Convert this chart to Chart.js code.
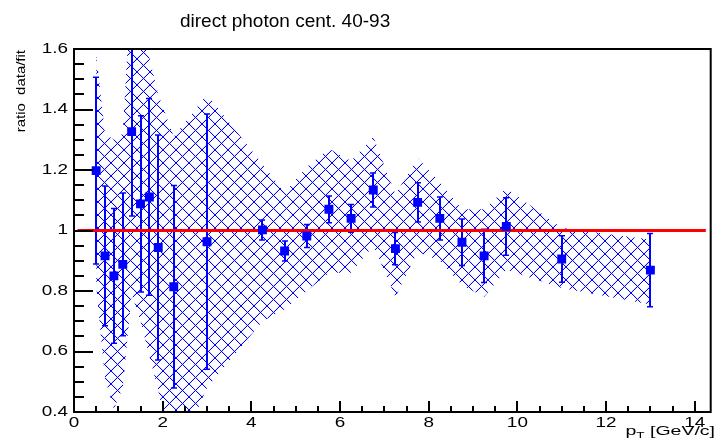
<!DOCTYPE html>
<html><head><meta charset="utf-8">
<script src="https://cdn.jsdelivr.net/npm/chart.js@4/dist/chart.umd.min.js"></script>
<style>html,body{margin:0;padding:0;background:#fff;overflow:hidden}canvas{display:block}</style>
</head><body>
<canvas id="c" width="717" height="445"></canvas>
<script>
// ---------- data ----------
const titleText = 'direct photon cent. 40-93';
const yTitle = 'ratio  data/fit';
const xTitleMain = 'p';
const xTitleSub = 'T';
const xTitleUnit = ' [GeV/c]';
const xTickVals = [0, 2, 4, 6, 8, 10, 12, 14];
const yTickVals = [0.4, 0.6, 0.8, 1.0, 1.2, 1.4, 1.6];
const ptX = [0.5, 0.7, 0.9, 1.1, 1.3, 1.5, 1.7, 1.9, 2.25, 3.0, 4.25, 4.75, 5.25, 5.75, 6.25, 6.75, 7.25, 7.75, 8.25, 8.75, 9.25, 9.75, 11, 13];
const ratio = [1.198, 0.916, 0.850, 0.888, 1.327, 1.088, 1.111, 0.944, 0.814, 0.963, 1.002, 0.932, 0.982, 1.070, 1.040, 1.134, 0.940, 1.093, 1.040, 0.961, 0.916, 1.013, 0.906, 0.869];
const statErr = [0.309, 0.231, 0.223, 0.236, 0.279, 0.291, 0.325, 0.372, 0.335, 0.422, 0.033, 0.033, 0.038, 0.044, 0.046, 0.056, 0.053, 0.065, 0.071, 0.077, 0.088, 0.095, 0.077, 0.121];
const bandHigh = [1.585, 1.32, 1.30, 1.32, 1.85, 1.75, 1.57, 1.45, 1.31, 1.45, 1.22, 1.125, 1.21, 1.27, 1.23, 1.31, 1.12, 1.24, 1.16, 1.07, 1.07, 1.14, 1.008, 0.97];
const bandLow = [0.815, 0.51, 0.41, 0.48, 0.79, 0.70, 0.585, 0.47, 0.23, 0.48, 0.70, 0.74, 0.80, 0.86, 0.86, 0.95, 0.78, 0.93, 0.90, 0.82, 0.78, 0.87, 0.81, 0.755];
const fitX = [0.08, 14.25];
const fitY = [1, 1];
const xRange = [0, 14.36];
const yRange = [0.4, 1.6];
const xMinorStep = 0.5;
const yMinorStep = 0.05;

// ---------- style helpers ----------
const BLUE = '#0000ff';
const FONT = '"Liberation Sans", Arial, Helvetica, sans-serif';

function makeHatch() {
  // aliased cross-hatch tile (like ROOT fill style 3344)
  const s = 13;
  const c = document.createElement('canvas');
  c.width = s; c.height = s;
  const g = c.getContext('2d');
  for (let py = 0; py < s; py++) {
    for (let px = 0; px < s; px++) {
      const a = ((px - py) % s + s) % s;
      const b = (px + py) % s;
      if (a === 0 || b === 0) {
        g.fillStyle = BLUE;
        g.fillRect(px, py, 1, 1);
      } else if (a === 1 || b === s - 1) {
        g.fillStyle = 'rgba(0,0,255,0.12)';
        g.fillRect(px, py, 1, 1);
      }
    }
  }
  return g.createPattern(c, 'repeat');
}

function stretchText(ctx, txt, x, y, align, baseline, sx, font) {
  ctx.save();
  ctx.font = font;
  ctx.textAlign = align;
  ctx.textBaseline = baseline;
  ctx.translate(x, y);
  ctx.scale(sx, 1);
  ctx.fillText(txt, 0, 0);
  ctx.restore();
}

const rootPlugin = {
  id: 'rootStyle',
  beforeDatasetDraw(chart, args) {
    if (args.index !== 2) return;
    const { ctx, chartArea: a } = chart;
    const x = chart.scales.x, y = chart.scales.y;
    ctx.save();
    ctx.beginPath();
    ctx.rect(a.left, a.top, a.right - a.left, a.bottom - a.top);
    ctx.clip();
    ctx.strokeStyle = BLUE;
    ptX.forEach((v, i) => {
      const px = Math.round(x.getPixelForValue(v));
      const yl = y.getPixelForValue(ratio[i] - statErr[i]);
      const yh = y.getPixelForValue(ratio[i] + statErr[i]);
      ctx.lineWidth = 2;
      ctx.beginPath(); ctx.moveTo(px, yl); ctx.lineTo(px, yh); ctx.stroke();
      ctx.lineWidth = 1.5;
      ctx.beginPath();
      ctx.moveTo(px - 3, yl); ctx.lineTo(px + 3, yl);
      ctx.moveTo(px - 3, yh); ctx.lineTo(px + 3, yh);
      ctx.stroke();
    });
    ctx.restore();
  },
  afterDatasetsDraw(chart) {
    const { ctx, chartArea: a } = chart;
    const x = chart.scales.x, y = chart.scales.y;
    ctx.save();
    ctx.strokeStyle = '#000';
    ctx.fillStyle = '#000';
    // ticks
    ctx.lineWidth = 2;
    ctx.beginPath();
    const nx = Math.floor((x.max - x.min) / xMinorStep + 1e-6);
    for (let k = 0; k <= nx; k++) {
      const v = x.min + k * xMinorStep;
      const major = xTickVals.some(t => Math.abs(t - v) < 1e-6);
      const px = Math.round(x.getPixelForValue(v));
      ctx.moveTo(px, a.bottom);
      ctx.lineTo(px, a.bottom - (major ? 11 : 6));
    }
    const ny = Math.round((y.max - y.min) / yMinorStep);
    for (let k = 0; k <= ny; k++) {
      const v = y.min + k * yMinorStep;
      const major = yTickVals.some(t => Math.abs(t - v) < 1e-6);
      const py = Math.round(y.getPixelForValue(v));
      ctx.moveTo(a.left, py);
      ctx.lineTo(a.left + (major ? 19 : 10), py);
    }
    ctx.stroke();
    // frame
    ctx.lineWidth = 2;
    ctx.strokeRect(a.left, a.top, a.right - a.left, a.bottom - a.top);
    // tick labels
    const tickFont = '14px ' + FONT;
    xTickVals.forEach(v => {
      stretchText(ctx, String(v), x.getPixelForValue(v), a.bottom + 11, 'center', 'middle', 1.35, tickFont);
    });
    yTickVals.forEach(v => {
      stretchText(ctx, String(Math.round(v * 10) / 10), a.left - 6, y.getPixelForValue(v), 'right', 'middle', 1.35, tickFont);
    });
    // title
    stretchText(ctx, titleText, 180, 27, 'left', 'alphabetic', 1, '19px ' + FONT);
    // y title (rotated)
    ctx.save();
    ctx.translate(25, 50);
    ctx.rotate(-Math.PI / 2);
    stretchText(ctx, yTitle, 0, 0, 'right', 'alphabetic', 1.15, '13px ' + FONT);
    ctx.restore();
    // x title with subscript
    const sx = 1.5;
    ctx.font = '13px ' + FONT;
    const w1 = ctx.measureText(xTitleMain).width;
    const w3 = ctx.measureText(xTitleUnit).width;
    ctx.font = '9px ' + FONT;
    const w2 = ctx.measureText(xTitleSub).width;
    const right = 715;
    let start = right - (w1 + w2 + w3) * sx;
    stretchText(ctx, xTitleMain, start, 435, 'left', 'alphabetic', sx, '13px ' + FONT);
    start += w1 * sx;
    stretchText(ctx, xTitleSub, start, 438, 'left', 'alphabetic', sx, '9px ' + FONT);
    start += w2 * sx;
    stretchText(ctx, xTitleUnit, start, 435, 'left', 'alphabetic', sx, '13px ' + FONT);
    ctx.restore();
  }
};

const hatch = makeHatch();
new Chart(document.getElementById('c'), {
  type: 'line',
  data: {
    datasets: [
      { label: 'syst high', data: ptX.map((v, i) => ({ x: v, y: bandHigh[i] })),
        borderColor: 'rgba(0,0,0,0)', borderWidth: 0, pointRadius: 0, fill: false, tension: 0, order: 3 },
      { label: 'syst low', data: ptX.map((v, i) => ({ x: v, y: bandLow[i] })),
        borderColor: 'rgba(0,0,0,0)', borderWidth: 0, pointRadius: 0, fill: '-1', backgroundColor: hatch, tension: 0, order: 3 },
      { label: 'fit', data: fitX.map((v, i) => ({ x: v, y: fitY[i] })),
        borderColor: '#ff0000', borderWidth: 3, pointRadius: 0, fill: false, order: 1 },
      { label: 'data', data: ptX.map((v, i) => ({ x: v, y: ratio[i] })),
        showLine: false, pointStyle: 'rect', pointRadius: 6.3, backgroundColor: BLUE, borderWidth: 0, order: 0 }
    ]
  },
  options: {
    responsive: false,
    animation: false,
    devicePixelRatio: 1,
    layout: { padding: { left: 74, top: 49, right: 5, bottom: 33 } },
    plugins: { legend: { display: false }, tooltip: { enabled: false }, title: { display: false } },
    scales: {
      x: { type: 'linear', min: xRange[0], max: xRange[1], display: false },
      y: { type: 'linear', min: yRange[0], max: yRange[1], display: false }
    }
  },
  plugins: [rootPlugin]
});
</script>
</body></html>
